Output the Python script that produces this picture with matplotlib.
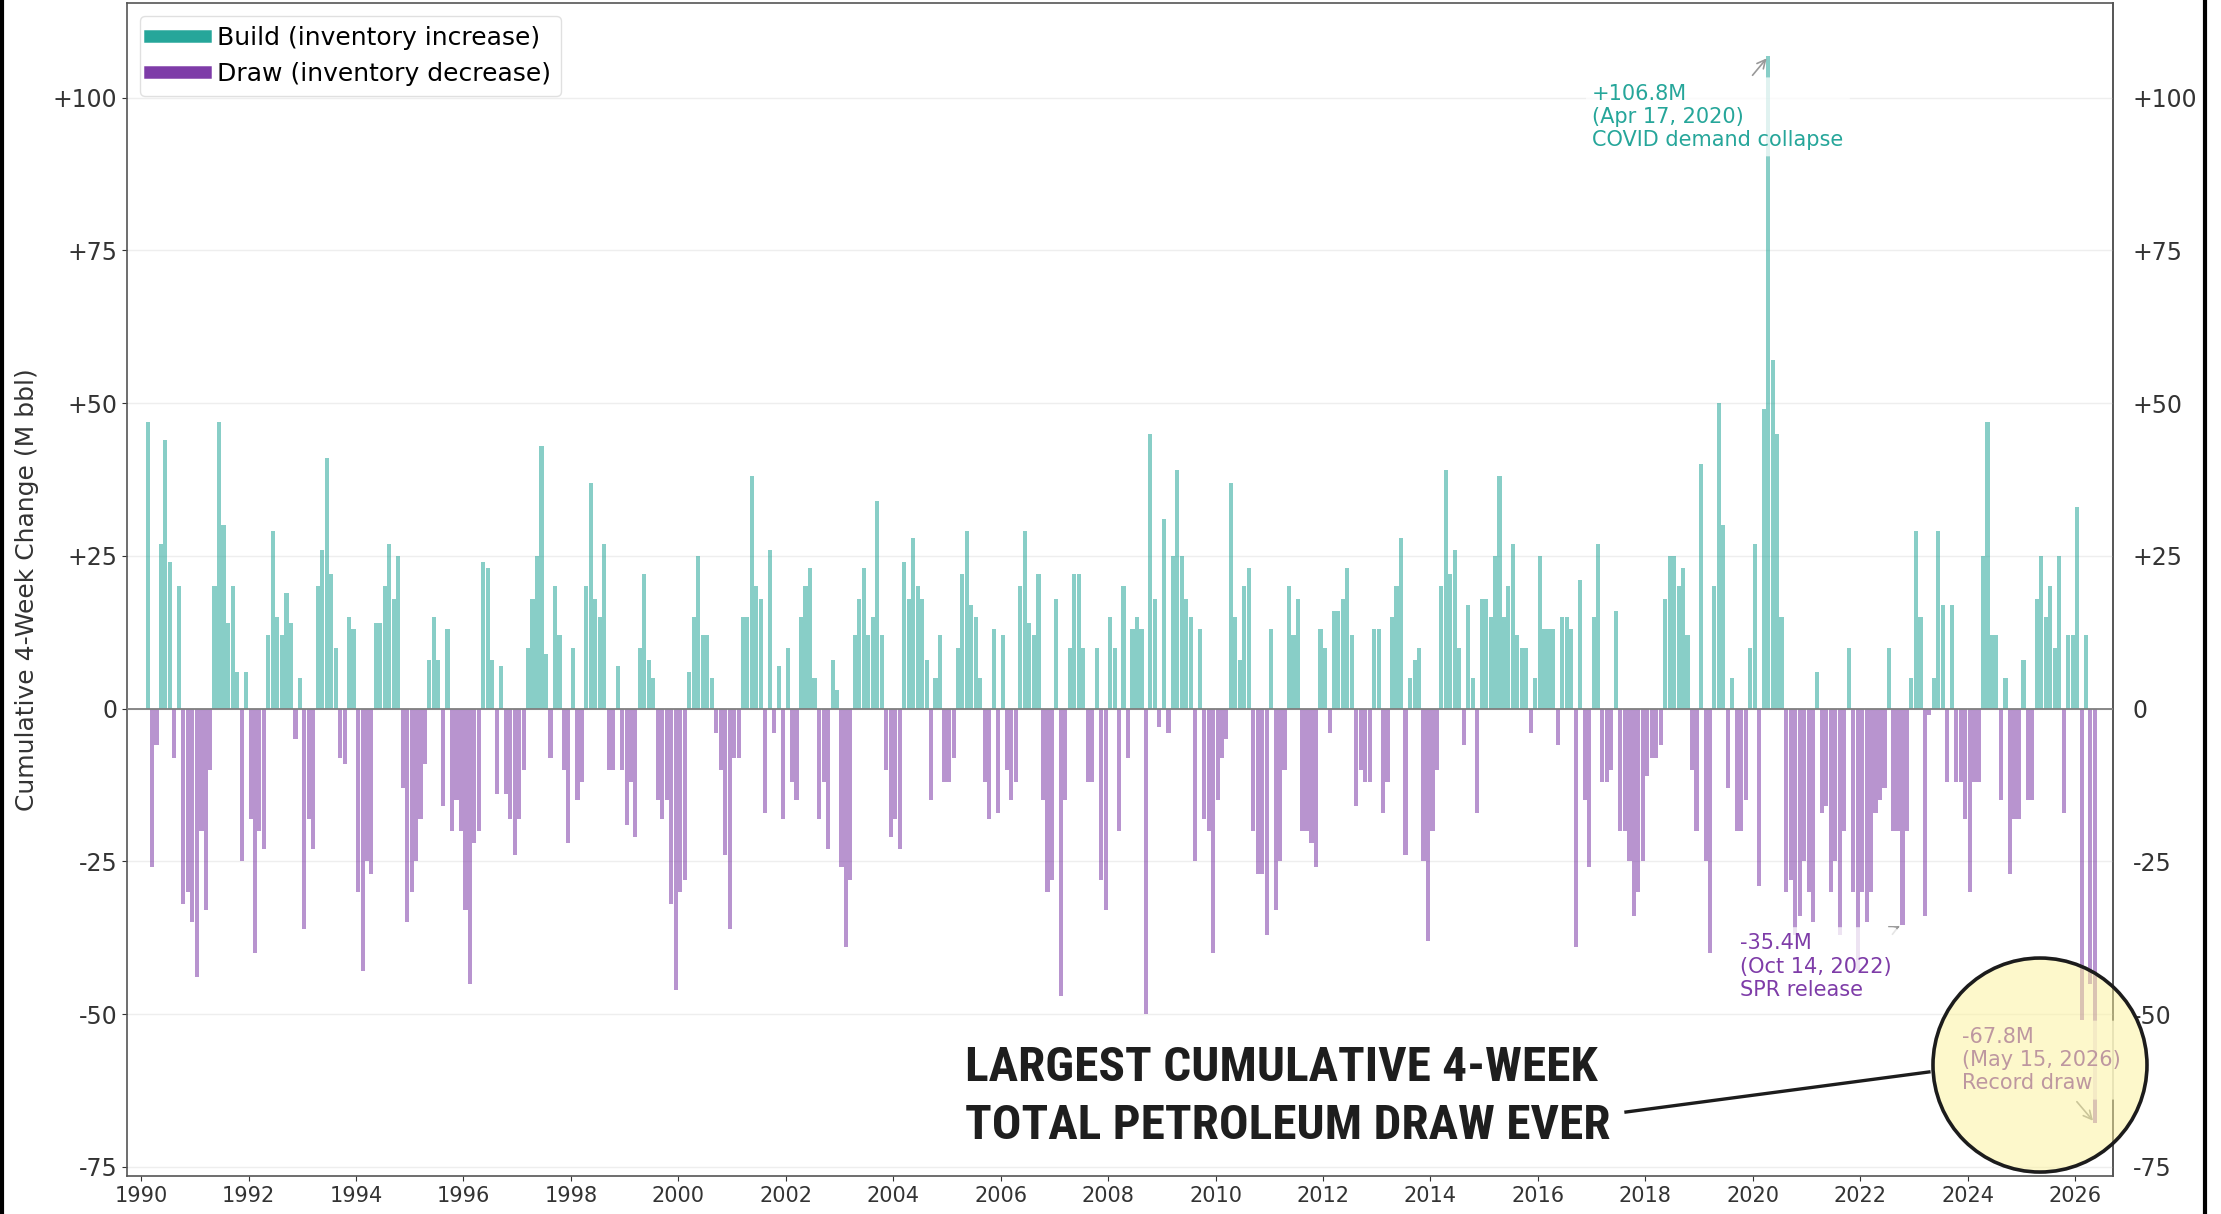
import numpy as np
import pandas as pd
import matplotlib
matplotlib.use('Agg')
import matplotlib.pyplot as plt
import matplotlib.dates as mdates
from matplotlib import font_manager
from matplotlib.lines import Line2D
from matplotlib.patches import Ellipse
from matplotlib.ticker import FuncFormatter

# Cumulative 4-week change in total US petroleum stocks (M bbl),
# one value per month, Feb 1990 .. May 2026
chg_1990s = [
    47, -26, -6, 27, 44, 24, -8, 20, -32, -30, -35,              # 1990 (from Feb)
    -44, -20, -33, -10, 20, 47, 30, 14, 20, 6, -25, 6,           # 1991
    -18, -40, -20, -23, 12, 29, 15, 12, 19, 14, -5, 5,           # 1992
    -36, -18, -23, 20, 26, 41, 22, 10, -8, -9, 15, 13,           # 1993
    -30, -43, -25, -27, 14, 14, 20, 27, 18, 25, -13, -35,        # 1994
    -30, -25, -18, -9, 8, 15, 8, -16, 13, -20, -15, -20,         # 1995
    -33, -45, -22, -20, 24, 23, 8, -14, 7, -14, -18, -24,        # 1996
    -18, -10, 10, 18, 25, 43, 9, -8, 20, 12, -10, -22,           # 1997
    10, -15, -12, 20, 37, 18, 15, 27, -10, -10, 7, -10,          # 1998
    -19, -12, -21, 10, 22, 8, 5, -15, -18, -15, -32, -46,        # 1999
]
chg_2000s = [
    -30, -28, 6, 15, 25, 12, 12, 5, -4, -10, -24, -36,           # 2000
    -8, -8, 15, 15, 38, 20, 18, -17, 26, -4, 7, -18,             # 2001
    10, -12, -15, 15, 20, 23, 5, -18, -12, -23, 8, 3,            # 2002
    -26, -39, -28, 12, 18, 23, 12, 15, 34, 12, -10, -21,         # 2003
    -18, -23, 24, 18, 28, 20, 18, 8, -15, 5, 12, -12,            # 2004
    -12, -8, 10, 22, 29, 17, 15, 5, -12, -18, 13, -17,           # 2005
    12, -10, -15, -12, 20, 29, 14, 12, 22, -15, -30, -28,        # 2006
    18, -47, -15, 10, 22, 22, 10, -12, -12, 10, -28, -33,        # 2007
    15, 10, -20, 20, -8, 13, 15, 13, -50, 45, 18, -3,            # 2008
    31, -4, 25, 39, 25, 18, 15, -25, 13, -18, -20, -40,          # 2009
]
chg_2010s = [
    -15, -8, -5, 37, 15, 8, 20, 23, -20, -27, -27, -37,          # 2010
    13, -33, -25, -10, 20, 12, 18, -20, -20, -22, -26, 13,       # 2011
    10, -4, 16, 16, 18, 23, 12, -16, -10, -12, -12, 13,          # 2012
    13, -17, -12, 15, 20, 28, -24, 5, 8, 10, -25, -38,           # 2013
    -20, -10, 20, 39, 22, 26, 10, -6, 17, 5, -17, 18,            # 2014
    18, 15, 25, 38, 15, 20, 27, 12, 10, 10, -4, 5,               # 2015
    25, 13, 13, 13, -6, 15, 15, 13, -39, 21, -15, -26,           # 2016
    15, 27, -12, -12, -10, 16, -20, -20, -25, -34, -30, -25,     # 2017
    -11, -8, -8, -6, 18, 25, 25, 20, 23, 12, -10, -20,           # 2018
    40, -25, -40, 20, 50, 30, -13, 5, -20, -20, -15, 10,         # 2019
]
chg_2020s = [
    27, -29, 49, 106.8, 57, 45, 15, -30, -28, -37, -34, -25,     # 2020
    -30, -35, 6, -17, -16, -30, -25, -37, -20, 10, -30, -43,     # 2021
    -30, -35, -30, -17, -15, -13, 10, -20, -20, -35.4, -20, 5,   # 2022
    29, 15, -34, -1, 5, 29, 17, -12, 17, -12, -12, -18,          # 2023
    -30, -12, -12, 25, 47, 12, 12, -15, 5, -27, -18, -18,        # 2024
    8, -15, -15, 18, 25, 15, 20, 10, 25, -17, 12, 12,            # 2025
    33, -51, 12, -45, -67.8,                                     # 2026 (to May)
]

# Called-out weeks
note_dates = ['2020-04-17', '2022-10-14', '2026-05-15']
note_values = [106.8, -35.4, -67.8]
note_labels = ['COVID demand collapse', 'SPR release', 'Record draw']

BUILD = '#26a69a'
DRAW = '#7e3ca8'

vals = np.array(chg_1990s + chg_2000s + chg_2010s + chg_2020s, dtype=float)
dates = pd.date_range('1990-02-01', periods=len(vals), freq='MS') + pd.Timedelta(days=14)

fig = plt.figure(figsize=(22.21, 12.14), dpi=100)
ax = fig.add_axes([0.0572, 0.0313, 0.8942, 0.9662])

ax.bar(dates, vals, width=28, color=np.where(vals >= 0, BUILD, DRAW),
       alpha=0.55, linewidth=0, zorder=2)
ax.axhline(0, color='#7f7f7f', lw=1.3, zorder=3)

ax.set_xlim(pd.Timestamp('1989-09-27'), pd.Timestamp('2026-09-16'))
ax.set_ylim(-76.5, 115.5)

signed = FuncFormatter(lambda v, pos: '0' if v == 0 else f'{v:+.0f}')
yticks = list(range(-75, 101, 25))
ax.set_yticks(yticks)
ax.yaxis.set_major_formatter(signed)
ax.xaxis.set_major_locator(mdates.YearLocator(2))
ax.xaxis.set_major_formatter(mdates.DateFormatter('%Y'))
ax.tick_params(axis='y', labelsize=17, colors='#333333')
ax.tick_params(axis='x', labelsize=15, colors='#333333')
ax.yaxis.grid(True, color='#eeeeee', lw=1)
ax.set_axisbelow(True)
for s in ax.spines.values():
    s.set_color('#555555')
    s.set_linewidth(1.2)

# same scale repeated on the right side
sec = ax.secondary_yaxis('right')
sec.set_yticks(yticks)
sec.yaxis.set_major_formatter(signed)
sec.tick_params(length=0, pad=14, labelsize=17, colors='#333333')
sec.spines['right'].set_color('#555555')
sec.spines['right'].set_linewidth(1.2)

ax.set_ylabel('Cumulative 4-Week Change (M bbl)', fontsize=18, color='#333333')
ax.yaxis.set_label_coords(-0.0445, 0.5)

handles = [Line2D([0], [0], color=BUILD, lw=9), Line2D([0], [0], color=DRAW, lw=9)]
ax.legend(handles, ['Build (inventory increase)', 'Draw (inventory decrease)'],
          loc='upper left', fontsize=18, handlelength=2.2, handletextpad=0.5,
          framealpha=0.9, edgecolor='#dddddd')

# callouts with arrows to the marked weeks
text_pos = [('2017-01-05', 102.3), ('2019-10-08', -36.8), ('2023-11-25', -52.1)]
text_col = [BUILD, DRAW, DRAW]
for d, v, lab, (tx, ty), c in zip(note_dates, note_values, note_labels, text_pos, text_col):
    day = pd.Timestamp(d)
    txt = f'{v:+.1f}M\n({day:%b %d, %Y})\n{lab}'
    ax.annotate(txt, xy=(mdates.date2num(day), v),
                xytext=(mdates.date2num(pd.Timestamp(tx)), ty),
                ha='left', va='top', fontsize=15, color=c,
                bbox=dict(boxstyle='round,pad=0.3', fc='white', ec='none', alpha=0.75),
                arrowprops=dict(arrowstyle='->', color='#999999', lw=1.2),
                zorder=5)

# headline pointing at the record draw
available = {f.name for f in font_manager.fontManager.ttflist}
head_font, head_size = 'Roboto', 31
for fam, size in [('Roboto Condensed', 35.5), ('Liberation Sans Narrow', 35)]:
    if fam in available:
        head_font, head_size = fam, size
        break

fig.text(0.4345, 0.1203, 'LARGEST CUMULATIVE 4-WEEK', family=head_font,
         weight='bold', fontsize=head_size, color='#1e1e1e', va='center', ha='left')
fig.text(0.4345, 0.0725, 'TOTAL PETROLEUM DRAW EVER', family=head_font,
         weight='bold', fontsize=head_size, color='#1e1e1e', va='center', ha='left')
fig.add_artist(Line2D([0.7321, 0.8685], [0.0840, 0.1170], transform=fig.transFigure,
                      color='#1c1c1c', lw=2.4, zorder=9))
fig.add_artist(Ellipse((0.9185, 0.1227), 214 / 2221, 214 / 1214, transform=fig.transFigure,
                       facecolor=(0.99, 0.95, 0.6, 0.5), edgecolor='#1c1c1c',
                       lw=2.6, zorder=10))

# frame edges
fig.add_artist(Line2D([0.001, 0.001], [0, 1], transform=fig.transFigure, color='k', lw=3))
fig.add_artist(Line2D([0.9928, 0.9928], [0, 1], transform=fig.transFigure, color='k', lw=3))

fig.savefig('out.png', dpi=100, facecolor='white')
